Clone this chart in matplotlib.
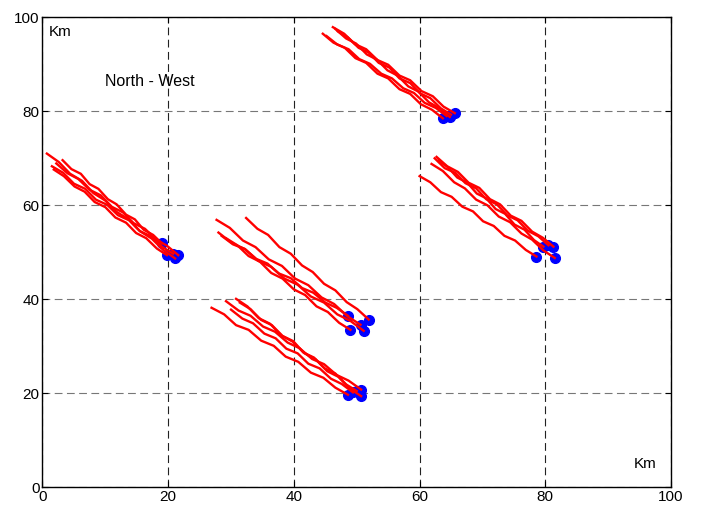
import matplotlib
matplotlib.use('Agg')
import matplotlib.pyplot as plt

plt.rcParams['font.family'] = ['Liberation Sans', 'DejaVu Sans']

# === Траектории (км), по группам ===
a_x = [[0.7, 2.6, 4.4, 6.3, 8.1, 10.0, 11.8, 13.7, 15.5, 17.4, 19.2, 21.1],
       [1.5, 3.3, 5.0, 6.8, 8.5, 10.3, 12.0, 13.8, 15.5, 17.3, 19.0, 20.8],
       [2.2, 4.0, 5.7, 7.5, 9.3, 11.0, 12.8, 14.5, 16.3, 18.1, 19.8, 21.6],
       [1.8, 3.4, 5.1, 6.7, 8.3, 10.0, 11.6, 13.3, 14.9, 16.5, 18.2, 19.8],
       [3.2, 4.6, 6.1, 7.5, 8.9, 10.4, 11.8, 13.3, 14.7, 16.1, 17.6, 19.0]]
a_y = [[71.0, 69.2, 66.7, 65.2, 62.6, 61.0, 58.6, 57.0, 54.5, 52.9, 50.5, 48.7],
       [68.3, 66.9, 64.6, 63.5, 61.2, 60.1, 57.9, 56.8, 54.5, 53.4, 51.2, 49.7],
       [68.9, 66.8, 65.6, 63.3, 62.1, 59.7, 58.5, 56.2, 55.0, 52.7, 51.4, 49.4],
       [67.6, 66.2, 64.0, 62.9, 60.7, 59.6, 57.4, 56.3, 54.1, 53.0, 50.8, 49.4],
       [69.6, 67.7, 66.7, 64.5, 63.5, 61.3, 60.2, 58.0, 57.0, 54.8, 53.7, 51.9]]

b_x = [[27.7, 29.8, 31.9, 33.9, 36.0, 38.1, 40.2, 42.3, 44.4, 46.4, 48.5, 50.6],
       [32.4, 34.2, 35.9, 37.7, 39.5, 41.3, 43.0, 44.8, 46.6, 48.4, 50.1, 51.9],
       [28.5, 30.3, 32.2, 34.0, 35.8, 37.6, 39.5, 41.3, 43.1, 45.0, 46.8, 48.6],
       [29.2, 31.0, 32.8, 34.6, 36.4, 38.2, 40.0, 41.8, 43.6, 45.4, 47.2, 49.0],
       [28.0, 30.1, 32.2, 34.3, 36.4, 38.5, 40.6, 42.7, 44.8, 46.9, 49.0, 51.1]]
b_y = [[56.9, 55.2, 52.5, 51.1, 48.5, 47.1, 44.4, 43.0, 40.4, 39.0, 36.4, 34.6],
       [57.3, 55.0, 53.7, 51.1, 49.7, 47.2, 45.8, 43.3, 41.9, 39.4, 37.9, 35.7],
       [53.5, 51.7, 50.7, 48.6, 47.6, 45.5, 44.5, 42.4, 41.4, 39.3, 38.2, 36.5],
       [53.0, 51.5, 49.2, 48.0, 45.6, 44.4, 42.1, 40.9, 38.5, 37.3, 35.0, 33.5],
       [54.2, 52.0, 50.7, 48.2, 46.9, 44.4, 43.1, 40.6, 39.3, 36.8, 35.4, 33.3]]

c_x = [[26.9, 28.9, 30.8, 32.8, 34.8, 36.8, 38.7, 40.7, 42.7, 44.7, 46.6, 48.6],
       [29.2, 31.2, 33.1, 35.1, 37.0, 39.0, 40.9, 42.9, 44.8, 46.8, 48.7, 50.7],
       [30.8, 32.6, 34.4, 36.2, 38.0, 39.8, 41.7, 43.5, 45.3, 47.1, 48.9, 50.7],
       [30.0, 31.8, 33.5, 35.3, 37.1, 38.8, 40.6, 42.3, 44.1, 45.9, 47.6, 49.4],
       [31.4, 33.1, 34.8, 36.5, 38.2, 39.9, 41.5, 43.2, 44.9, 46.6, 48.3, 50.0]]
c_y = [[38.2, 36.8, 34.5, 33.5, 31.2, 30.1, 27.8, 26.7, 24.4, 23.3, 21.2, 19.7],
       [39.6, 37.6, 36.5, 34.2, 33.1, 30.8, 29.6, 27.3, 26.2, 23.9, 22.7, 20.8],
       [40.1, 38.5, 36.0, 34.8, 32.3, 31.0, 28.5, 27.2, 24.7, 23.5, 21.0, 19.4],
       [37.8, 35.9, 34.9, 32.7, 31.7, 29.5, 28.5, 26.3, 25.3, 23.1, 22.0, 20.2],
       [39.3, 37.9, 35.6, 34.5, 32.2, 31.1, 28.7, 27.6, 25.3, 24.2, 21.9, 20.5]]

d_x = [[46.2, 48.0, 49.7, 51.5, 53.3, 55.0, 56.8, 58.5, 60.3, 62.1, 63.8, 65.6],
       [44.6, 46.3, 48.1, 49.8, 51.5, 53.3, 55.0, 56.8, 58.5, 60.2, 62.0, 63.7],
       [46.6, 48.3, 49.9, 51.6, 53.2, 54.9, 56.5, 58.2, 59.8, 61.5, 63.1, 64.8],
       [47.0, 48.6, 50.3, 51.9, 53.5, 55.2, 56.8, 58.5, 60.1, 61.7, 63.4, 65.0],
       [45.2, 46.9, 48.7, 50.4, 52.1, 53.9, 55.6, 57.4, 59.1, 60.8, 62.6, 64.3]]
d_y = [[97.9, 96.5, 94.3, 93.2, 90.9, 89.9, 87.6, 86.6, 84.3, 83.2, 81.0, 79.6],
       [96.5, 94.6, 93.5, 91.3, 90.3, 88.0, 87.0, 84.7, 83.7, 81.5, 80.3, 78.5],
       [97.5, 95.5, 94.4, 92.1, 91.0, 88.7, 87.6, 85.3, 84.2, 81.9, 80.7, 78.8],
       [97.0, 95.7, 93.5, 92.5, 90.3, 89.3, 87.0, 86.0, 83.8, 82.8, 80.6, 79.3],
       [96.0, 94.2, 93.2, 91.1, 90.1, 88.0, 87.0, 84.9, 83.9, 81.8, 80.7, 79.0]]

e_x = [[60.0, 61.7, 63.4, 65.1, 66.8, 68.5, 70.1, 71.8, 73.5, 75.2, 76.9, 78.6],
       [62.7, 64.4, 66.1, 67.8, 69.5, 71.2, 72.8, 74.5, 76.2, 77.9, 79.6, 81.3],
       [61.9, 63.7, 65.5, 67.2, 69.0, 70.8, 72.6, 74.4, 76.2, 77.9, 79.7, 81.5],
       [63.0, 64.5, 66.0, 67.6, 69.1, 70.6, 72.1, 73.6, 75.1, 76.7, 78.2, 79.7],
       [62.4, 64.0, 65.7, 67.3, 69.0, 70.6, 72.3, 73.9, 75.6, 77.2, 78.9, 80.5]]
e_y = [[66.2, 64.9, 62.8, 61.8, 59.7, 58.7, 56.6, 55.6, 53.5, 52.5, 50.5, 49.1],
       [70.3, 68.3, 67.1, 64.8, 63.7, 61.3, 60.2, 57.8, 56.7, 54.4, 53.1, 51.2],
       [68.8, 67.3, 64.9, 63.6, 61.2, 60.0, 57.6, 56.4, 54.0, 52.7, 50.4, 48.8],
       [69.5, 68.1, 65.9, 64.8, 62.5, 61.5, 59.2, 58.2, 55.9, 54.8, 52.6, 51.2],
       [70.0, 67.9, 66.9, 64.7, 63.6, 61.3, 60.2, 57.9, 56.8, 54.6, 53.4, 51.5]]

ticks = [0, 20, 40, 60, 80, 100]

fig = plt.figure(figsize=(7.01, 5.08), dpi=100)
ax = fig.add_axes([0.0606, 0.0407, 0.8966, 0.9253])

for xs_all, ys_all in [(a_x, a_y), (b_x, b_y), (c_x, c_y), (d_x, d_y), (e_x, e_y)]:
    for xs, ys in zip(xs_all, ys_all):
        # конечная точка - синий маркер под красной линией
        ax.plot(xs[-1], ys[-1], 'o', color='#0000ff', markersize=7, zorder=2)
        ax.plot(xs, ys, color='#ff0000', linewidth=1.7, zorder=3)

ax.set_xlim(0, 100)
ax.set_ylim(0, 100)
ax.set_xticks(ticks)
ax.set_yticks(ticks)
ax.tick_params(direction='in', top=True, right=True, length=4, labelsize=11, pad=2)
for sp in ax.spines.values():
    sp.set_linewidth(1.0)

ax.xaxis.grid(True, color='#222222', linestyle=(0, (7, 4)), linewidth=0.8)
ax.yaxis.grid(True, color='#777777', linestyle=(0, (7, 4)), linewidth=0.8)
ax.set_axisbelow(True)

ax.text(1.0, 96.9, 'Km', fontsize=11, va='center', ha='left')
ax.text(10.0, 86.3, 'North - West', fontsize=11.5, va='center', ha='left')
ax.text(94.0, 5.0, 'Km', fontsize=11, va='center', ha='left')

fig.savefig('out.png', dpi=100)
